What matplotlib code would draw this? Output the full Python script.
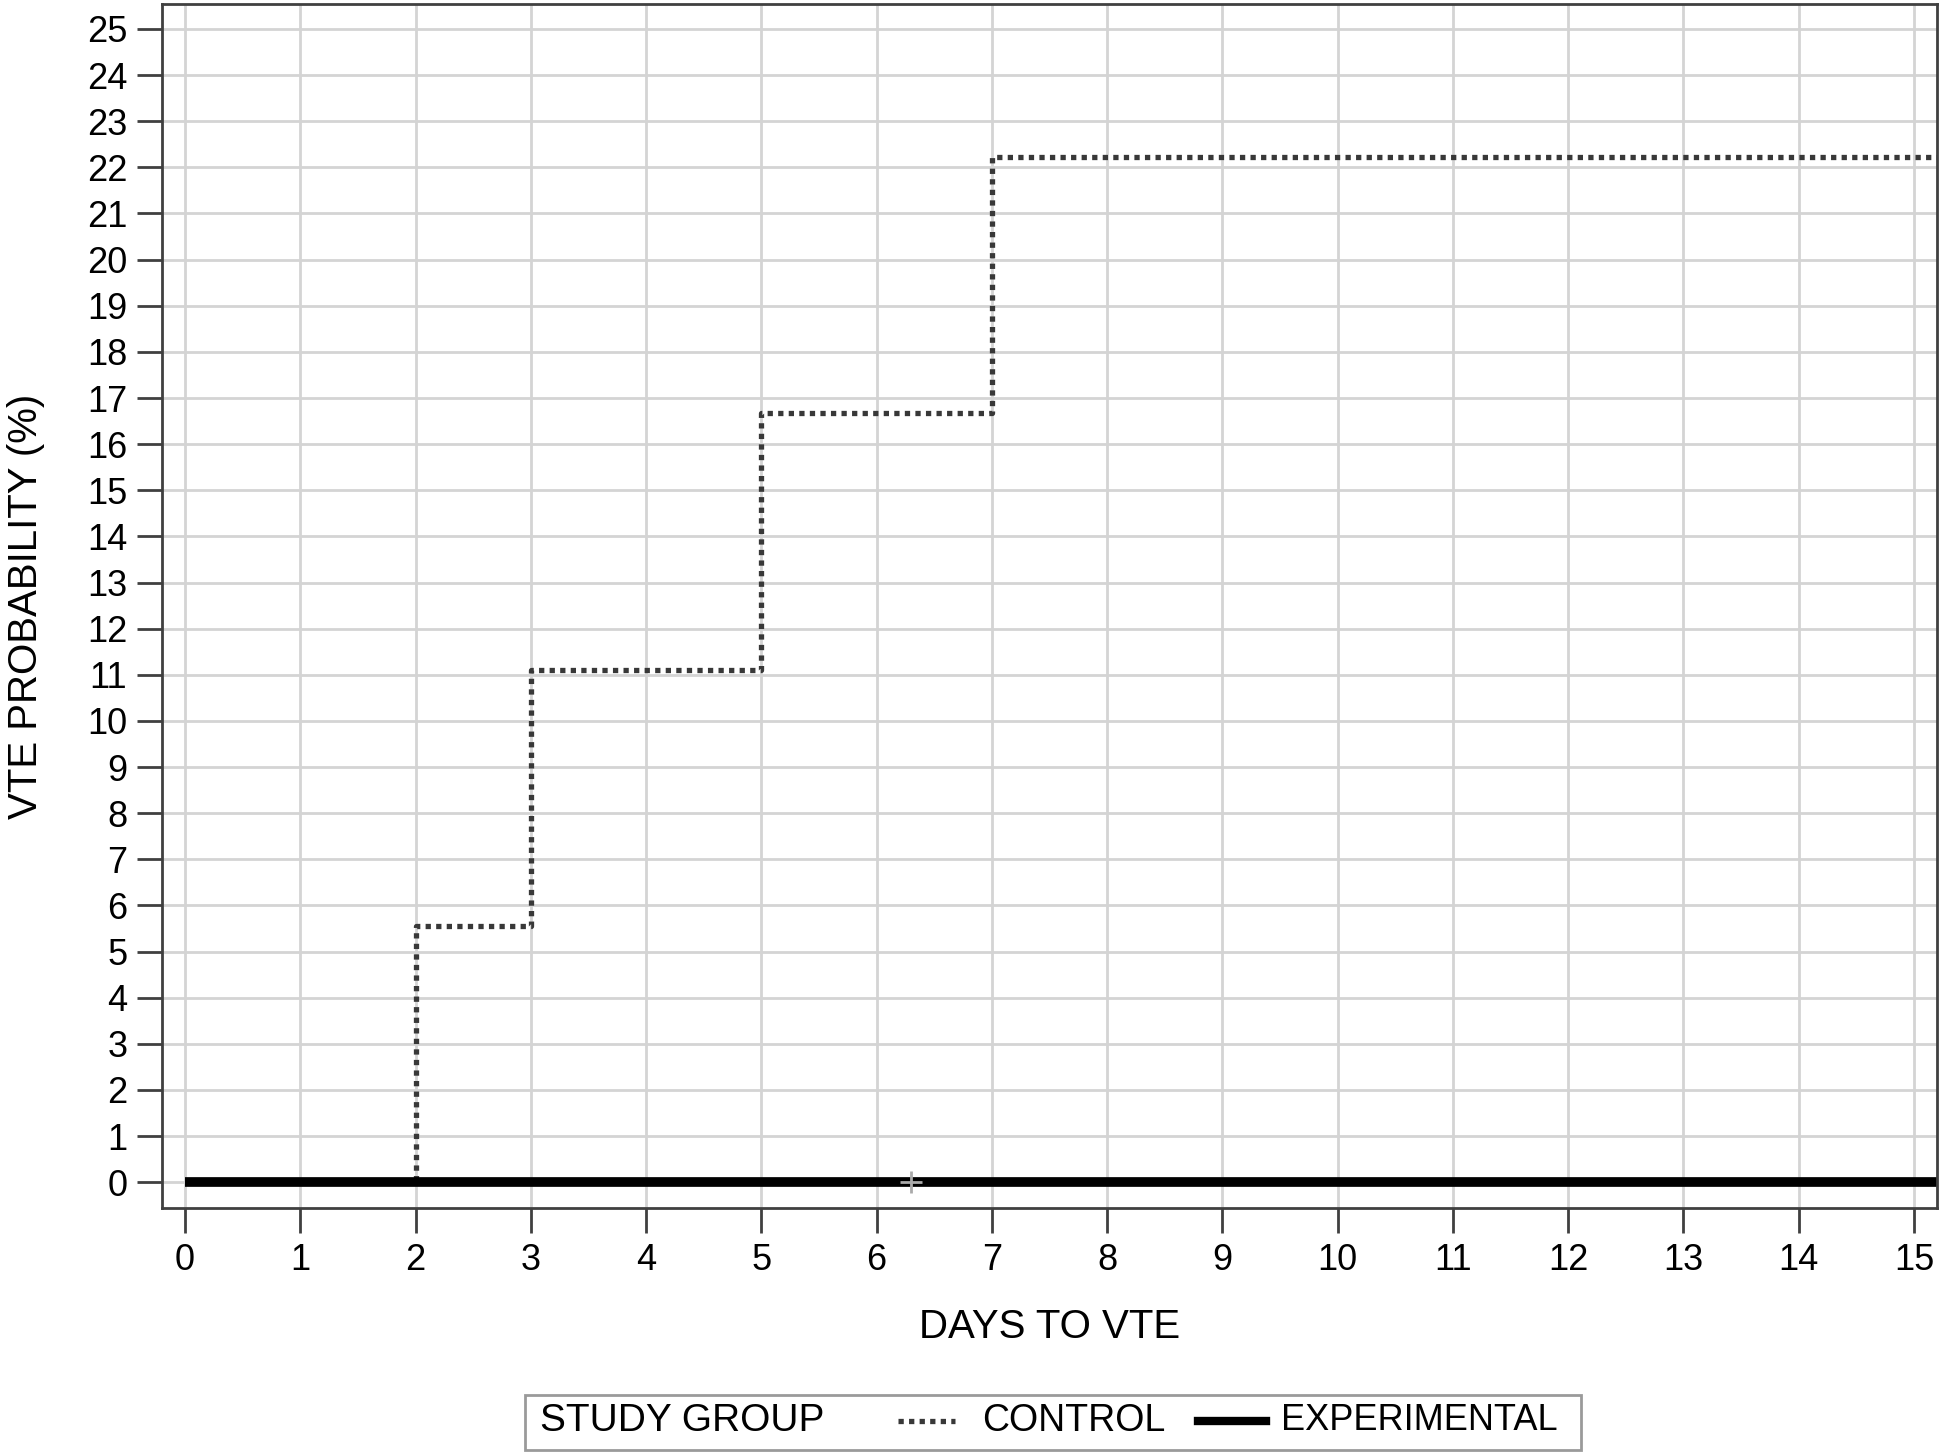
import matplotlib.pyplot as plt
from matplotlib.lines import Line2D
from matplotlib.patches import Rectangle

control_days = [0, 2, 3, 5, 7, 15.2]
control_prob = [0, 5.56, 11.11, 16.67, 22.22, 22.22]
experimental_days = [0, 15.2]
experimental_prob = [0, 0]
censor_days = [6.3]
censor_prob = [0]
x_ticks = list(range(0, 16))
y_ticks = list(range(0, 26))

plt.rcParams['font.family'] = ['Liberation Sans', 'DejaVu Sans']


def plot_vte():
  fig = plt.figure(figsize=(19.5, 14.52), dpi=100)
  ax = fig.add_axes([0.0831, 0.168, 0.9102, 0.8292])
  ax.set_xlim(-0.2, 15.2)
  ax.set_ylim(-0.56, 25.54)
  ax.set_xticks(x_ticks)
  ax.set_yticks(y_ticks)
  ax.tick_params(axis='both', labelsize=26, length=18, width=2, color='#404040', pad=7)
  ax.grid(color='#d4d4d4', linewidth=2)
  ax.set_axisbelow(True)
  for s in ax.spines.values():
    s.set_color('#404040')
    s.set_linewidth(2)
  ax.set_xlabel('DAYS TO VTE', fontsize=29, labelpad=22)
  ax.set_ylabel('VTE PROBABILITY (%)', fontsize=29, labelpad=30)

  ax.step(control_days, control_prob, where='post', color='#383838',
          linewidth=3.8, linestyle=(0, (1, 1)))
  ax.step(experimental_days, experimental_prob, where='post', color='black',
          linewidth=7, solid_capstyle='butt')
  ax.plot(censor_days, censor_prob, marker='+', color='#aaaaaa',
          markersize=16, markeredgewidth=2, linestyle='none')

  # legend box
  fig.patches.append(Rectangle((525 / 1950, 1 - 1450 / 1452), 1056 / 1950, 55 / 1452,
                               transform=fig.transFigure, fill=False,
                               edgecolor='#9a9a9a', linewidth=2))
  ty = 1 - 1421 / 1452
  fig.text(540 / 1950, ty, 'STUDY GROUP', fontsize=28, va='center')
  fig.lines.append(Line2D([898 / 1950, 955 / 1950], [ty, ty], transform=fig.transFigure,
                          color='#383838', linewidth=3.8, linestyle=(0, (1, 1))))
  fig.text(982 / 1950, ty, 'CONTROL', fontsize=27, va='center')
  fig.lines.append(Line2D([1198 / 1950, 1266 / 1950], [ty, ty], transform=fig.transFigure,
                          color='black', linewidth=6))
  fig.text(1281 / 1950, ty, 'EXPERIMENTAL', fontsize=26, va='center')

  plt.savefig('out.png', dpi=100)


plot_vte()
